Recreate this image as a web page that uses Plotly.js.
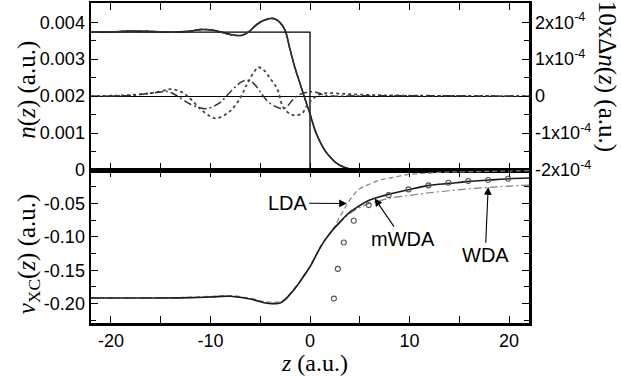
<!DOCTYPE html>
<html>
<head>
<meta charset="utf-8">
<script src="https://cdn.plot.ly/plotly-3.0.1.min.js"></script>
<style>html,body{margin:0;padding:0;background:#fff;}#chart{width:621px;height:376px;}</style>
</head>
<body>
<div id="chart"></div>
<script>
// ---------- top panel: density n(z) ----------
const jelliumEdge = 0;
const nBulk = 0.00373;
const zN   = [-22,-20,-18,-16,-14,-12,-11,-10,-9,-8,-7,-6.5,-6,-5.5,-5,-4.5,-4,-3.5,-3,-2.5,-2,-1.5,-1,-0.5,0,0.5,1,1.5,2,2.5,3,3.5,4,5,6,8,22];
const nKS  = [0.00373,0.00374,0.00376,0.00375,0.00373,0.00376,0.00380,0.00379,0.00374,0.00367,0.00364,0.00368,0.00377,0.00390,0.00400,0.00406,0.00410,0.00409,0.00399,0.00378,0.00326,0.00276,0.00234,0.00192,0.00152,0.00108,0.00077,0.00053,0.00036,0.00022,0.00013,0.00007,0.00003,0.00001,0,0,0];
const nLDA = [0.00373,0.00374,0.00376,0.00376,0.00373,0.00376,0.00381,0.00380,0.00374,0.00366,0.00363,0.00368,0.00378,0.00391,0.00401,0.00407,0.00411,0.00409,0.00398,0.00377,0.00325,0.00276,0.00234,0.00192,0.00153,0.00108,0.00077,0.00053,0.00036,0.00022,0.00013,0.00007,0.00003,0.00001,0,0,0];
const nWDA = [0.00373,0.00374,0.00376,0.00375,0.00373,0.00375,0.00380,0.00379,0.00373,0.00366,0.00364,0.00369,0.00378,0.00391,0.00401,0.00407,0.00410,0.00408,0.00398,0.00377,0.00325,0.00275,0.00234,0.00193,0.00153,0.00109,0.00077,0.00053,0.00036,0.00022,0.00013,0.00007,0.00003,0.00001,0,0,0];

// 10 x Delta n(z), right axis
const zDot  = [-22,-20,-18,-16,-15,-14,-13,-12.3,-11,-10,-9.5,-9,-8,-7,-6.3,-5.5,-5.2,-4.7,-4,-3.3,-2.7,-2,-1.5,-0.8,-0.3,0.3,1,2,3.5,5,8,12,22];
const dnDot = [0,0.01e-4,0.03e-4,0.08e-4,0.13e-4,0.19e-4,0.12e-4,0,-0.35e-4,-0.55e-4,-0.60e-4,-0.57e-4,-0.40e-4,-0.05e-4,0.34e-4,0.70e-4,0.78e-4,0.72e-4,0.48e-4,0.20e-4,-0.30e-4,-0.48e-4,-0.52e-4,-0.47e-4,-0.25e-4,-0.07e-4,0.05e-4,0.08e-4,0.06e-4,0.04e-4,0.02e-4,0.01e-4,0];
const zDD   = [-22,-18,-16,-15,-14.5,-14,-13.3,-12,-11,-10.5,-10,-9,-8.4,-7.5,-6.8,-6.3,-5.8,-5,-4.7,-4,-3.3,-2.7,-2.2,-1.8,-1.2,-0.5,0.3,1,1.5,2.5,5,22];
const dnDD  = [0,0.02e-4,0.08e-4,0.11e-4,0.13e-4,0.10e-4,0,-0.22e-4,-0.32e-4,-0.34e-4,-0.31e-4,-0.17e-4,0,0.25e-4,0.40e-4,0.43e-4,0.38e-4,0.12e-4,0,-0.20e-4,-0.30e-4,-0.34e-4,-0.25e-4,-0.12e-4,0.02e-4,0.09e-4,0.12e-4,0.07e-4,0.02e-4,0,0.01e-4,0];

// ---------- bottom panel: v_XC(z) ----------
const zV    = [-22,-16,-12,-10,-8,-6,-4.5,-3.5,-3,-2.5,-2,-1.5,-1,-0.5,0,0.5,1,1.5,2,2.5,3,3.5,4,4.5,5,6,7,8,10,12,14,16,18,20,22];
const vMWDA = [-0.1915,-0.1915,-0.191,-0.190,-0.189,-0.193,-0.199,-0.200,-0.199,-0.194,-0.186,-0.177,-0.167,-0.156,-0.145,-0.131,-0.117,-0.105,-0.095,-0.086,-0.078,-0.070,-0.063,-0.058,-0.053,-0.045,-0.040,-0.036,-0.029,-0.023,-0.020,-0.017,-0.015,-0.013,-0.012];
const vLDA  = [-0.1915,-0.1915,-0.1905,-0.189,-0.188,-0.192,-0.197,-0.198,-0.197,-0.193,-0.185,-0.176,-0.166,-0.155,-0.144,-0.130,-0.116,-0.104,-0.094,-0.084,-0.070,-0.057,-0.045,-0.035,-0.028,-0.021,-0.015,-0.012,-0.0065,-0.0045,-0.003,-0.0025,-0.002,-0.0015,-0.001];
const vWDA  = [-0.1915,-0.1915,-0.191,-0.190,-0.189,-0.193,-0.199,-0.200,-0.199,-0.194,-0.186,-0.177,-0.167,-0.156,-0.145,-0.131,-0.117,-0.105,-0.095,-0.086,-0.079,-0.071,-0.065,-0.060,-0.056,-0.050,-0.046,-0.042,-0.038,-0.034,-0.031,-0.028,-0.026,-0.024,-0.0225];
const zExact = [2.4,2.8,3.4,4.4,5.9,7.9,9.9,11.9,13.9,15.9,17.9,19.9];
const vExact = [-0.1925,-0.148,-0.1085,-0.076,-0.0525,-0.0375,-0.029,-0.023,-0.019,-0.0165,-0.015,-0.013];

// ---------- ticks ----------
const xTicks = [-20,-10,0,10,20];
const xTickText = ['-20','-10','0','10','20'];
const nTicks = [0,0.001,0.002,0.003,0.004];
const nTickText = ['0','0.001','0.002','0.003','0.004'];
const dnTicks = [-2e-4,-1e-4,0,1e-4,2e-4];
const dnTickText = ['-2x10<sup>-4</sup>','-1x10<sup>-4</sup>','0','1x10<sup>-4</sup>','2x10<sup>-4</sup>'];
const vTicks = [-0.05,-0.10,-0.15,-0.20];
const vTickText = ['-0.05','-0.10','-0.15','-0.20'];

const zMin = -22, zMax = 22;
const stepZ = [zMin, jelliumEdge, jelliumEdge, zMax];
const stepN = [nBulk, nBulk, 0, 0];

const traces = [
  {x: stepZ, y: stepN, xaxis:'x', yaxis:'y', mode:'lines', line:{color:'#000', width:1.3}},
  {x: zN, y: nKS, xaxis:'x', yaxis:'y', mode:'lines', line:{color:'#111', width:1.6, shape:'spline'}},
  {x: zN, y: nLDA, xaxis:'x', yaxis:'y', mode:'lines', line:{color:'#333', width:1.2, dash:'4px,2px', shape:'spline'}},
  {x: zN, y: nWDA, xaxis:'x', yaxis:'y', mode:'lines', line:{color:'#333', width:1.2, dash:'7px,2px,2px,2px', shape:'spline'}},
  {x: zDot, y: dnDot, xaxis:'x', yaxis:'y2', mode:'lines', line:{color:'#444', width:1.8, dash:'dot', shape:'spline'}},
  {x: zDD, y: dnDD, xaxis:'x', yaxis:'y2', mode:'lines', line:{color:'#333', width:1.5, dash:'8px,3px,2px,3px', shape:'spline'}},
  {x: zV, y: vLDA, xaxis:'x2', yaxis:'y3', mode:'lines', line:{color:'#808080', width:1.2, dash:'5px,3px', shape:'spline'}},
  {x: zV, y: vWDA, xaxis:'x2', yaxis:'y3', mode:'lines', line:{color:'#808080', width:1.2, dash:'8px,3px,2px,3px', shape:'spline'}},
  {x: zV, y: vMWDA, xaxis:'x2', yaxis:'y3', mode:'lines', line:{color:'#1a1a1a', width:1.6, shape:'spline'}},
  {x: zExact, y: vExact, xaxis:'x2', yaxis:'y3', mode:'markers', marker:{symbol:'circle-open', size:5, color:'#555', line:{width:1.1, color:'#555'}}}
];

const tickFont = {family:"'Liberation Sans', Arial, sans-serif", size:18, color:'#000'};
const titleFont = {family:"'Liberation Serif', 'Times New Roman', serif", size:25, color:'#000'};
const labelFont = {family:"'Liberation Sans', Arial, sans-serif", size:20, color:'#000'};
const frame = {showline:true, linecolor:'#000', linewidth:2.5, ticks:'inside', ticklen:7, tickwidth:1, tickcolor:'#000', showgrid:false, zeroline:false};
const TOPDOM = [0.478, 1], BOTDOM = [0, 0.478];

const layout = {
  width:621, height:376,
  margin:{l:91, r:92, t:3, b:53},
  paper_bgcolor:'#fff', plot_bgcolor:'#fff',
  showlegend:false,
  font: tickFont,
  xaxis: Object.assign({}, frame, {anchor:'y', range:[zMin,zMax], tickvals:xTicks, ticktext:xTickText, showticklabels:false, mirror:'ticks',
    minor:{dtick:5, tick0:0, ticks:'inside', ticklen:7, tickcolor:'#000'}}),
  xaxis2: Object.assign({}, frame, {anchor:'y3', range:[zMin,zMax], tickvals:xTicks, ticktext:xTickText, mirror:'ticks', tickfont:tickFont,
    minor:{dtick:5, tick0:0, ticks:'inside', ticklen:7, tickcolor:'#000'}}),
  yaxis: Object.assign({}, frame, {domain:TOPDOM, anchor:'x', range:[0, 0.00452], tickvals:nTicks, ticktext:nTickText, tickfont:tickFont,
    minor:{dtick:0.0005, tick0:0, ticks:'inside', ticklen:5, tickcolor:'#000'}}),
  yaxis2: Object.assign({}, frame, {overlaying:'y', side:'right', anchor:'x', range:[-2e-4, 2.52e-4], tickvals:dnTicks, ticktext:dnTickText, tickfont:tickFont,
    zeroline:true, zerolinecolor:'#000', zerolinewidth:1.2,
    minor:{dtick:0.5e-4, tick0:0, ticks:'inside', ticklen:5, tickcolor:'#000'}}),
  yaxis3: Object.assign({}, frame, {domain:BOTDOM, anchor:'x2', range:[-0.229, 0], tickvals:vTicks, ticktext:vTickText, tickfont:tickFont, mirror:'ticks',
    minor:{dtick:0.025, tick0:0, ticks:'inside', ticklen:5, tickcolor:'#000'}}),
  annotations: [
    // axis titles
    {xref:'paper', yref:'paper', x:-0.147, y:0.728, text:'<i>n</i>(<i>z</i>) (a.u.)', textangle:-90, showarrow:false,
      font:titleFont, xanchor:'center', yanchor:'middle'},
    {xref:'paper', yref:'paper', x:-0.142, y:0.217, text:'<i>v</i><sub>XC</sub>(<i>z</i>) (a.u.)', textangle:-90, showarrow:false,
      font:titleFont, xanchor:'center', yanchor:'middle'},
    {xref:'paper', yref:'paper', x:0.511, y:-0.124, text:'<i>z</i> (a.u.)', showarrow:false,
      font:{family:titleFont.family, size:24, color:'#000'}, xanchor:'center', yanchor:'middle'},
    {xref:'paper', yref:'paper', x:1.178, y:0.77, text:'10xΔ<i>n</i>(<i>z</i>) (a.u.)', textangle:90, showarrow:false,
      font:titleFont, xanchor:'center', yanchor:'middle'},
    // curve labels
    {xref:'x2', yref:'y3', x:3.7, y:-0.05, ax:-2.25, ay:-0.0495, axref:'x2', ayref:'y3', text:'LDA', showarrow:true,
      arrowhead:2, arrowsize:1.4, arrowwidth:1.1, arrowcolor:'#000', standoff:0, font:labelFont},
    {xref:'x2', yref:'y3', x:6.5, y:-0.0425, ax:9.3, ay:-0.1035, axref:'x2', ayref:'y3', text:'mWDA', showarrow:true,
      arrowhead:2, arrowsize:1.4, arrowwidth:1.1, arrowcolor:'#000', standoff:0, font:labelFont},
    {xref:'x2', yref:'y3', x:17.9, y:-0.0255, ax:17.6, ay:-0.1275, axref:'x2', ayref:'y3', text:'WDA', showarrow:true,
      arrowhead:2, arrowsize:1.4, arrowwidth:1.1, arrowcolor:'#000', standoff:0, font:labelFont}
  ]
};

Plotly.newPlot('chart', traces, layout, {staticPlot:true, displayModeBar:false});
</script>
</body>
</html>
